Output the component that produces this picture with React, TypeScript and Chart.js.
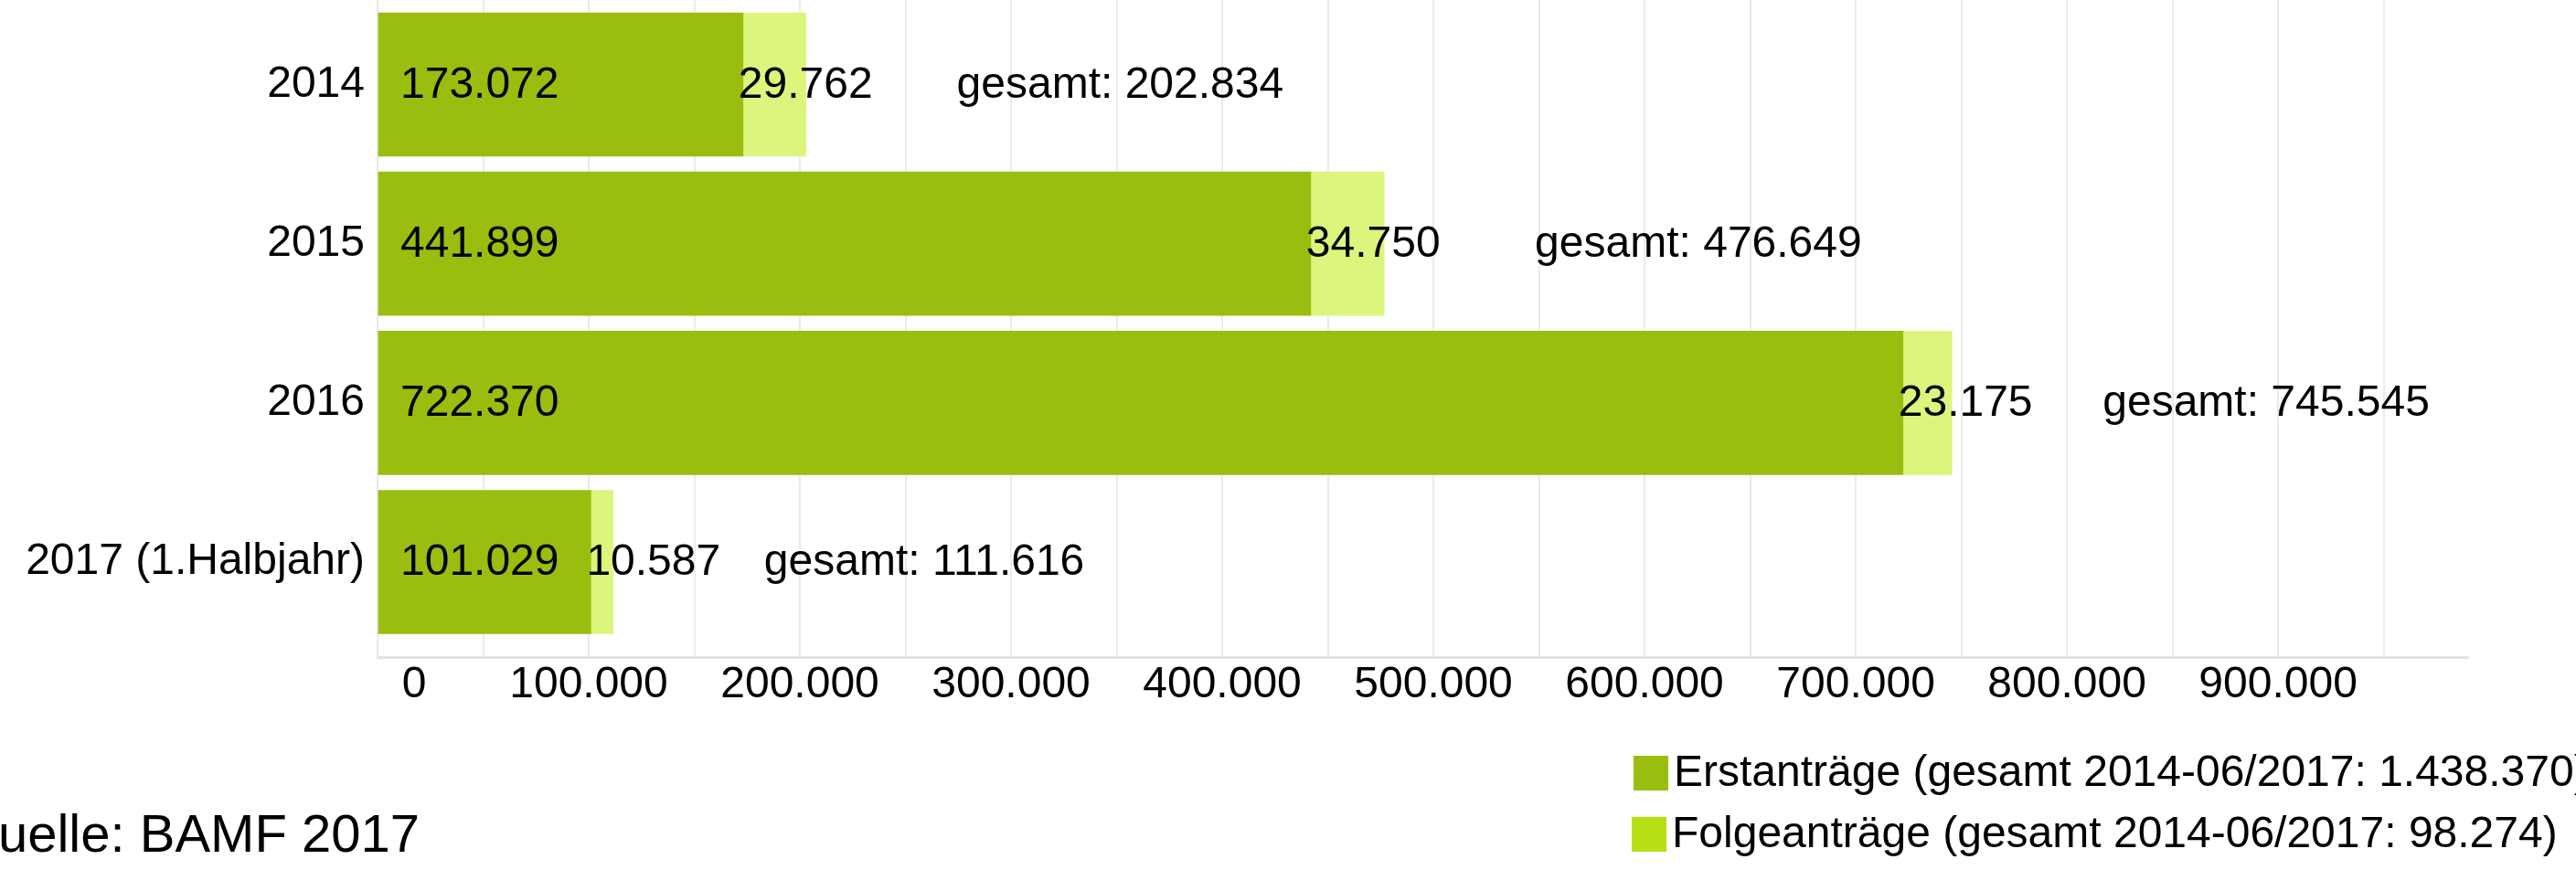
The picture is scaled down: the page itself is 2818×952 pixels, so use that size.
import React, { useEffect, useRef } from 'react';
import { Chart, registerables } from 'chart.js';

Chart.register(...registerables);

// ---- data ----
const categories = ['2014', '2015', '2016', '2017 (1.Halbjahr)'];
const erstantraege = [173072, 441899, 722370, 101029];
const folgeantraege = [29762, 34750, 23175, 10587];
const gesamt = [202834, 476649, 745545, 111616];
const seriesNames = [
  'Erstanträge (gesamt 2014-06/2017: 1.438.370)',
  'Folgeanträge (gesamt 2014-06/2017: 98.274)',
];
const xTickValues = [0, 100000, 200000, 300000, 400000, 500000, 600000, 700000, 800000, 900000];
const xTickLabels = ['0', '100.000', '200.000', '300.000', '400.000', '500.000', '600.000', '700.000', '800.000', '900.000'];
const xGridValues = [
  0, 50000, 100000, 150000, 200000, 250000, 300000, 350000, 400000, 450000,
  500000, 550000, 600000, 650000, 700000, 750000, 800000, 850000, 900000, 950000,
];
const sourceText = 'Quelle: BAMF 2017';

// ---- styles ----
const FONT = '"Liberation Sans", Arial, sans-serif';
const COLOR_ERST = '#99BE0F';
const COLOR_FOLGE = '#DCF57D';
const COLOR_FOLGE_LEGEND = '#B6E014';

const fmt = (n: number) => String(n).replace(/\B(?=(\d{3})+(?!\d))/g, '.');

const valueLabels = {
  id: 'valueLabels',
  afterDatasetsDraw(chart: any) {
    const ctx = chart.ctx;
    const xs = chart.scales.x;
    const ys = chart.scales.y;
    ctx.save();
    ctx.font = `48px ${FONT}`;
    ctx.fillStyle = '#000';
    ctx.textBaseline = 'middle';
    ctx.textAlign = 'left';
    categories.forEach((_, i) => {
      const yc = ys.getPixelForValue(i) + 1;
      ctx.fillText(fmt(erstantraege[i]), xs.getPixelForValue(0) + 25, yc);
      ctx.fillText(fmt(folgeantraege[i]), xs.getPixelForValue(erstantraege[i]) - 5, yc);
      ctx.fillText('gesamt: ' + fmt(gesamt[i]), xs.getPixelForValue(gesamt[i]) + 165, yc);
    });
    ctx.restore();
  },
};

const legendAndSource = {
  id: 'legendAndSource',
  afterDraw(chart: any) {
    const ctx = chart.ctx;
    ctx.save();
    const items = [
      { color: COLOR_ERST, bx: 1787, by: 827, tx: 1831, ty: 847 },
      { color: COLOR_FOLGE_LEGEND, bx: 1785, by: 894, tx: 1829, ty: 914 },
    ];
    ctx.font = `48px ${FONT}`;
    ctx.textBaseline = 'middle';
    ctx.textAlign = 'left';
    items.forEach((it, i) => {
      ctx.fillStyle = it.color;
      ctx.fillRect(it.bx, it.by, 38, 38);
      ctx.fillStyle = '#000';
      ctx.fillText(seriesNames[i], it.tx, it.ty);
    });
    ctx.font = `58px ${FONT}`;
    ctx.textBaseline = 'alphabetic';
    ctx.textAlign = 'right';
    ctx.fillStyle = '#000';
    ctx.fillText(sourceText, 459, 932);
    ctx.restore();
  },
};

export default function App() {
  const canvasRef = useRef<HTMLCanvasElement | null>(null);

  useEffect(() => {
    const canvas = canvasRef.current;
    if (!canvas) return;
    const chart = new Chart(canvas, {
      type: 'bar',
      data: {
        datasets: [
          {
            label: seriesNames[0],
            data: categories.map((_, i) => ({ x: erstantraege[i], y: i })),
            backgroundColor: COLOR_ERST,
            borderWidth: 0,
            barThickness: 157,
          },
          {
            label: seriesNames[1],
            data: categories.map((_, i) => ({ x: folgeantraege[i], y: i })),
            backgroundColor: COLOR_FOLGE,
            borderWidth: 0,
            barThickness: 157,
          },
        ],
      },
      options: {
        indexAxis: 'y',
        animation: false,
        responsive: false,
        devicePixelRatio: 1,
        layout: { padding: { left: 0, right: 118, top: 0, bottom: 0 }, autoPadding: false },
        plugins: {
          legend: { display: false },
          tooltip: { enabled: false },
          title: { display: false },
        },
        scales: {
          x: {
            type: 'linear',
            stacked: true,
            offset: false,
            min: 0,
            max: 990000,
            afterBuildTicks: (s: any) => {
              s.ticks = xGridValues.map((v) => ({ value: v }));
            },
            afterFit: (s: any) => {
              s.height = 233;
            },
            ticks: {
              autoSkip: false,
              minRotation: 0,
              maxRotation: 0,
              padding: 2,
              color: '#000',
              font: { family: FONT, size: 48 },
              callback: (v: any) => {
                const idx = xTickValues.indexOf(Number(v));
                if (idx < 0) return '';
                return idx === 0 ? '      ' + xTickLabels[idx] : xTickLabels[idx];
              },
            },
            grid: { color: '#ebebeb', lineWidth: 2, drawTicks: false, offset: false },
            border: { display: true, color: '#e3e3e3', width: 3 },
          },
          y: {
            type: 'linear',
            stacked: true,
            reverse: true,
            offset: false,
            min: -0.531,
            max: 3.597,
            afterBuildTicks: (s: any) => {
              s.ticks = categories.map((_, i) => ({ value: i }));
            },
            afterFit: (s: any) => {
              s.width = 413;
            },
            ticks: {
              autoSkip: false,
              padding: 0,
              color: '#000',
              font: { family: FONT, size: 48, lineHeight: 0 },
              callback: (v: any) => categories[Number(v)] ?? '',
            },
            grid: { display: false, drawTicks: true, tickLength: 14, offset: false },
            border: { display: true, color: '#e6e6e6', width: 1 },
          },
        },
      },
      plugins: [valueLabels, legendAndSource],
    } as any);
    return () => chart.destroy();
  }, []);

  return (
    <div style={{ position: 'absolute', left: 0, top: 0, width: 2818, height: 952, background: '#fff' }}>
      <canvas ref={canvasRef} width={2818} height={952} style={{ display: 'block' }} />
    </div>
  );
}
